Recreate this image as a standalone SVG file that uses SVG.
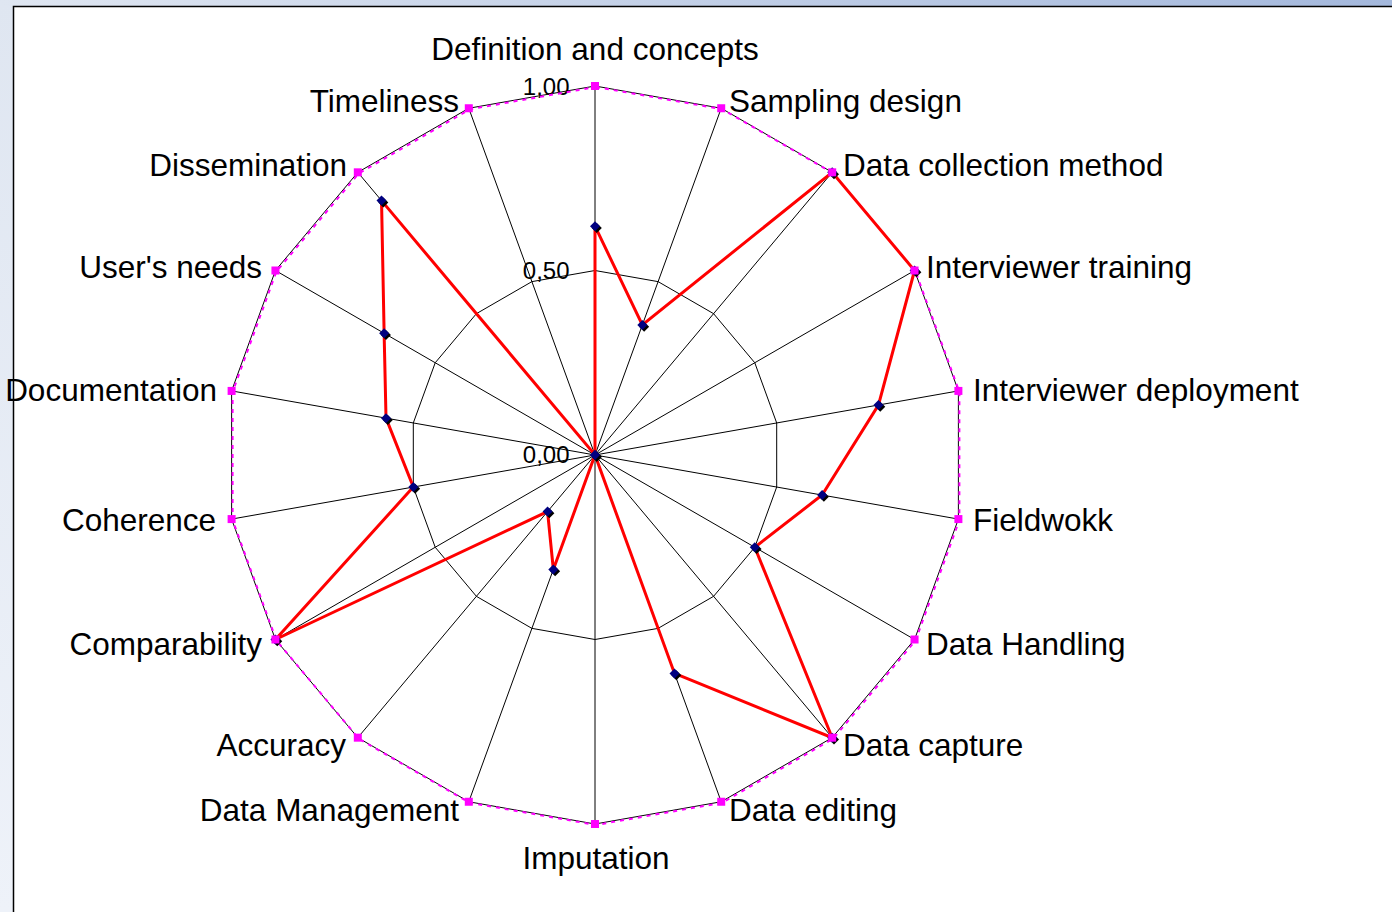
<svg xmlns="http://www.w3.org/2000/svg" width="1392" height="912" viewBox="0 0 1392 912">
<defs>
<linearGradient id="topg" x1="0" y1="0" x2="1" y2="0">
<stop offset="0" stop-color="#dfe6f1"/>
<stop offset="1" stop-color="#a4b8dc"/>
</linearGradient>
<linearGradient id="leftg" x1="0" y1="0" x2="0" y2="1">
<stop offset="0" stop-color="#dfe6f1"/>
<stop offset="1" stop-color="#eef2f9"/>
</linearGradient>
<g id="dia"><path d="M0,-5 L5,0 L0,5 L-5,0 Z" fill="#000000" transform="translate(1.8,1.8)"/><path d="M0,-5 L5,0 L0,5 L-5,0 Z" fill="#000080"/></g>
<rect id="sq" x="-4" y="-4" width="8" height="8" fill="#ff00ff"/>
</defs>
<style>
.lbl{font-family:"Liberation Sans",Arial,sans-serif;font-size:31.5px;fill:#000}
.tick{font-family:"Liberation Sans",Arial,sans-serif;font-size:24px;fill:#000}
.grid{fill:none;stroke:#000;stroke-width:1}
.series{fill:none;stroke:#ff0000;stroke-width:3;stroke-linejoin:miter}
.ref{fill:none;stroke:#ff00ff;stroke-width:2;stroke-dasharray:4 5}
</style>
<rect x="0" y="0" width="1392" height="912" fill="url(#leftg)"/>
<rect x="0" y="0" width="1392" height="6" fill="url(#topg)"/>
<rect x="13.5" y="6.5" width="1390" height="910" fill="#ffffff" stroke="#000" stroke-width="1.5"/>

<g id="grid">
<polygon class="grid" points="595,86 721.21,108.25 832.19,172.33 914.56,270.5 958.39,390.92 958.39,519.08 914.56,639.5 832.19,737.67 721.21,801.75 595,824 468.79,801.75 357.81,737.67 275.44,639.5 231.61,519.08 231.61,390.92 275.44,270.5 357.81,172.33 468.79,108.25"/>
<polygon class="grid" points="595,270.5 658.10,281.63 713.59,313.67 754.78,362.75 776.70,422.96 776.70,487.04 754.78,547.25 713.59,596.33 658.10,628.37 595,639.5 531.90,628.37 476.41,596.33 435.22,547.25 413.30,487.04 413.30,422.96 435.22,362.75 476.41,313.67 531.90,281.63"/>
<path class="grid" d="M595,455L595,86M595,455L721.21,108.25M595,455L832.19,172.33M595,455L914.56,270.5M595,455L958.39,390.92M595,455L958.39,519.08M595,455L914.56,639.5M595,455L832.19,737.67M595,455L721.21,801.75M595,455L595,824M595,455L468.79,801.75M595,455L357.81,737.67M595,455L275.44,639.5M595,455L231.61,519.08M595,455L231.61,390.92M595,455L275.44,270.5M595,455L357.81,172.33M595,455L468.79,108.25"/>
</g>

<g id="ticks">
<text class="tick" x="569.5" y="94.5" text-anchor="end">1,00</text>
<text class="tick" x="569.5" y="278.5" text-anchor="end">0,50</text>
<text class="tick" x="569.5" y="462.5" text-anchor="end">0,00</text>
</g>

<g id="connectors">
<polygon class="ref" points="596,87 722.21,109.25 833.19,173.33 915.56,271.5 959.39,391.92 959.39,520.08 915.56,640.5 833.19,738.67 722.21,802.75 596,825 469.79,802.75 358.81,738.67 276.44,640.5 232.61,520.08 232.61,391.92 276.44,271.5 358.81,173.33 469.79,109.25"/>
<polygon class="series" points="595,226.2 642.33,324.95 832.19,172.33 914.56,270.5 878.43,405.02 822.10,495.04 754.78,547.25 832.19,737.67 674.52,673.48 595,455 553.34,569.46 547.56,511.53 275.44,639.5 413.30,487.04 386.02,418.15 384.12,333.23 381.53,200.60 595,455"/>
</g>

<g id="markers">
<use href="#dia" x="595" y="226.2"/>
<use href="#dia" x="642.33" y="324.95"/>
<use href="#dia" x="832.19" y="172.33"/>
<use href="#dia" x="914.56" y="270.5"/>
<use href="#dia" x="878.43" y="405.02"/>
<use href="#dia" x="822.10" y="495.04"/>
<use href="#dia" x="754.78" y="547.25"/>
<use href="#dia" x="832.19" y="737.67"/>
<use href="#dia" x="674.52" y="673.48"/>
<use href="#dia" x="595" y="455"/>
<use href="#dia" x="553.34" y="569.46"/>
<use href="#dia" x="547.56" y="511.53"/>
<use href="#dia" x="275.44" y="639.5"/>
<use href="#dia" x="413.30" y="487.04"/>
<use href="#dia" x="386.02" y="418.15"/>
<use href="#dia" x="384.12" y="333.23"/>
<use href="#dia" x="381.53" y="200.60"/>
<use href="#dia" x="595" y="455"/>
<use href="#sq" x="595" y="86"/>
<use href="#sq" x="721.21" y="108.25"/>
<use href="#sq" x="832.19" y="172.33"/>
<use href="#sq" x="914.56" y="270.5"/>
<use href="#sq" x="958.39" y="390.92"/>
<use href="#sq" x="958.39" y="519.08"/>
<use href="#sq" x="914.56" y="639.5"/>
<use href="#sq" x="832.19" y="737.67"/>
<use href="#sq" x="721.21" y="801.75"/>
<use href="#sq" x="595" y="824"/>
<use href="#sq" x="468.79" y="801.75"/>
<use href="#sq" x="357.81" y="737.67"/>
<use href="#sq" x="275.44" y="639.5"/>
<use href="#sq" x="231.61" y="519.08"/>
<use href="#sq" x="231.61" y="390.92"/>
<use href="#sq" x="275.44" y="270.5"/>
<use href="#sq" x="357.81" y="172.33"/>
<use href="#sq" x="468.79" y="108.25"/>
</g>

<g id="n-definition"><text class="lbl" x="595" y="60" text-anchor="middle">Definition and concepts</text></g>
<g id="n-sampling"><text class="lbl" x="729" y="112">Sampling design</text></g>
<g id="n-datacollection"><text class="lbl" x="843" y="176">Data collection method</text></g>
<g id="n-intraining"><text class="lbl" x="926" y="278">Interviewer training</text></g>
<g id="n-indeployment"><text class="lbl" x="973" y="401">Interviewer deployment</text></g>
<g id="n-fieldwork"><text class="lbl" x="973" y="531">Fieldwokk</text></g>
<g id="n-datahandling"><text class="lbl" x="926" y="655">Data Handling</text></g>
<g id="n-datacapture"><text class="lbl" x="843" y="756">Data capture</text></g>
<g id="n-dataediting"><text class="lbl" x="729" y="821">Data editing</text></g>
<g id="n-imputation"><text class="lbl" x="596" y="869" text-anchor="middle">Imputation</text></g>
<g id="n-datamanagement"><text class="lbl" x="459" y="821" text-anchor="end">Data Management</text></g>
<g id="n-accuracy"><text class="lbl" x="346" y="756" text-anchor="end">Accuracy</text></g>
<g id="n-comparability"><text class="lbl" x="262" y="655" text-anchor="end">Comparability</text></g>
<g id="n-coherence"><text class="lbl" x="216" y="531" text-anchor="end">Coherence</text></g>
<g id="n-documentation"><text class="lbl" x="217" y="401" text-anchor="end">Documentation</text></g>
<g id="n-usersneeds"><text class="lbl" x="262" y="278" text-anchor="end">User's needs</text></g>
<g id="n-dissemination"><text class="lbl" x="347" y="176" text-anchor="end">Dissemination</text></g>
<g id="n-timeliness"><text class="lbl" x="459" y="112" text-anchor="end">Timeliness</text></g>
</svg>
